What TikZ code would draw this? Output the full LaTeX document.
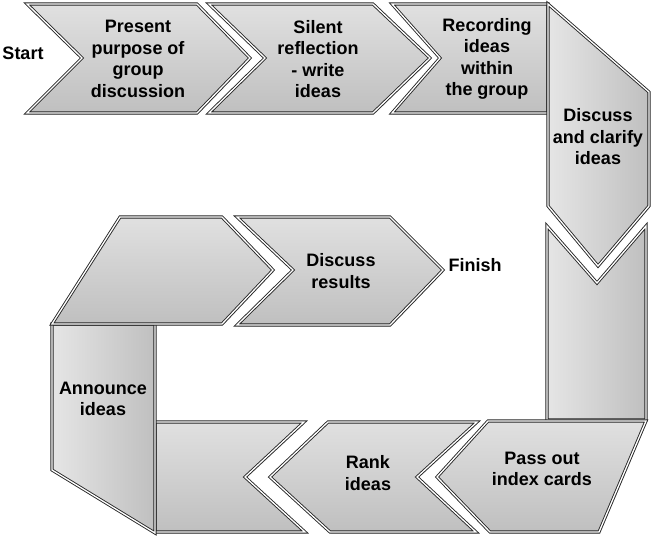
\documentclass[tikz,border=0pt]{standalone}
\usepackage{fontspec}
\setmainfont{Liberation Sans}
\usetikzlibrary{shadows}
\tikzset{
  piece/.style={draw=black!85, line width=0.9pt, double=white, double distance=1.3pt,
    line join=miter, top color=gray!24, middle color=gray!5, bottom color=gray!50,
    drop shadow={opacity=0.3, shadow xshift=1pt, shadow yshift=-1.5pt}},
  vpiece/.style={piece, left color=gray!20, middle color=gray!5, right color=gray!50},
  lbl/.style={font=\bfseries\fontsize{18}{21.5}\selectfont, align=center, text=black, inner sep=0pt}
}
\begin{document}
\begin{tikzpicture}[x=1pt, y=-1pt]
\useasboundingbox (0,0) rectangle (657,542);
% top row
\path[piece] (27,4) -- (197,4) -- (250,58) -- (197,113) -- (27,113) -- (82,58) -- cycle;
\path[piece] (209,4) -- (373,4) -- (430,58) -- (373,113) -- (209,113) -- (265,58) -- cycle;
\path[piece] (392,4) -- (548,4) -- (548,113) -- (392,113) -- (440,58) -- cycle;
% right column
\path[vpiece] (548,4) -- (649,92) -- (649,206) -- (598,266) -- (548,206) -- cycle;
\path[vpiece] (547,226) -- (597,283) -- (646,226) -- (646,420) -- (547,420) -- cycle;
% bottom row
\path[piece] (488,421) -- (646,421) -- (599,532) -- (490,532) -- (437,477) -- cycle;
\path[piece] (328,422) -- (477,422) -- (417,477) -- (476,532) -- (330,532) -- (270,477) -- cycle;
\path[piece] (155,422) -- (304,422) -- (245,477) -- (305,532) -- (155,532) -- cycle;
% left column
\path[vpiece] (52,324) -- (155,324) -- (155,533) -- (52,470) -- cycle;
% middle row
\path[piece] (120,217) -- (222,217) -- (273,270) -- (222,324) -- (52,324) -- cycle;
\path[piece] (237,217) -- (390,217) -- (443,270) -- (390,325) -- (237,325) -- (293,270) -- cycle;
% labels
\node[lbl] (start) at (23,53) {Start};
\node[lbl] (present) at (138,59) {Present\\purpose of\\group\\discussion};
\node[lbl] (silent) at (318,59) {Silent\\reflection\\- write\\ideas};
\node[lbl] (record) at (487,59) {Recording\\ideas\\within\\the group};
\node[lbl] (clarify) at (598,137) {Discuss\\and clarify\\ideas};
\node[lbl] (pass) at (542,469) {Pass out\\index cards};
\node[lbl] (rank) at (368,473) {Rank\\ideas};
\node[lbl] (announce) at (103,399) {Announce\\ideas};
\node[lbl] (results) at (341,271) {Discuss\\results};
\node[lbl] (finish) at (475,265) {Finish};
\end{tikzpicture}
\end{document}
